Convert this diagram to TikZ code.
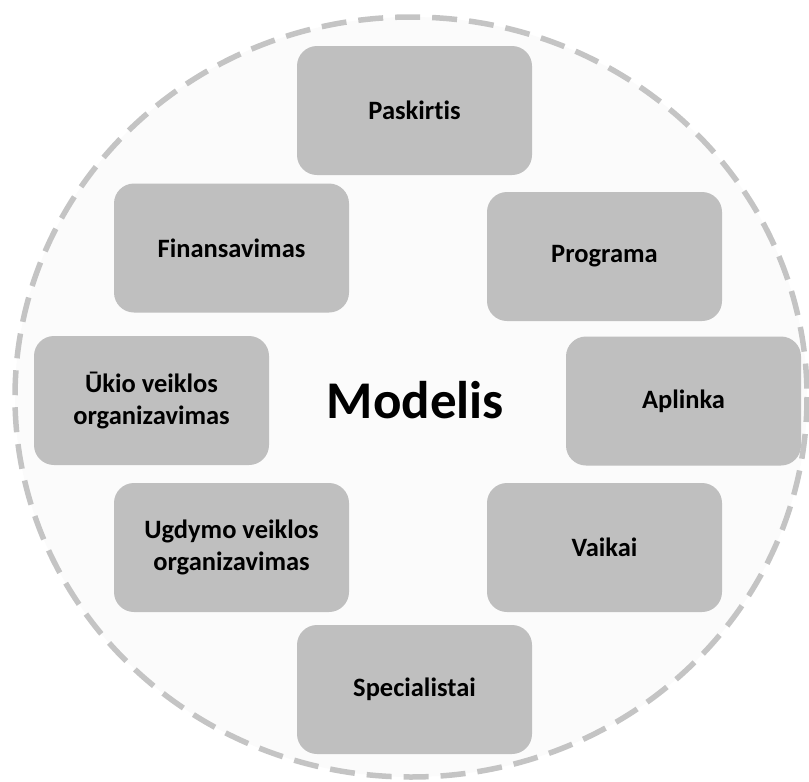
\documentclass[tikz,border=0pt]{standalone}
\usepackage{fontspec}
\setmainfont{Carlito}[Ligatures=NoCommon]
\usepackage{tikz}
\usetikzlibrary{shapes,positioning,fit}
\definecolor{boxgray}{HTML}{BFBFBF}
\definecolor{ringgray}{HTML}{C4C4C4}
\definecolor{innergray}{HTML}{FBFBFB}
\tikzset{
    part/.style={fill=boxgray, rounded corners=20pt, minimum width=235pt, minimum height=129pt,
        align=center, font=\fontsize{26.5}{32}\selectfont\bfseries},
    ring/.style={draw=ringgray, fill=innergray, line width=5.5pt, dash pattern=on 25pt off 12pt}
}

\begin{document}
\begin{tikzpicture}[x=1pt, y=-1pt]
        \useasboundingbox (0, 0) rectangle (809, 782);
        \draw [ring] (411, 397) ellipse [x radius=396, y radius=380];
        \node [part] (T) at (414.5, 110.5) {Paskirtis};
        \node [part] (TL) at (231.5, 248) {Finansavimas};
        \node [part] (TR) at (604.5, 256.5) {Programa};
        \node [part] (L) at (151.5, 400.5) {Ūkio veiklos\\organizavimas};
        \node [part] (R) at (683.5, 401) {Aplinka};
        \node [part] (BL) at (231.5, 547.5) {Ugdymo veiklos\\organizavimas};
        \node [part] (BR) at (604.5, 547.5) {Vaikai};
        \node [part] (B) at (414.5, 689.5) {Specialistai};
        \node (C) at (415.5, 400) {\fontsize{53}{60}\selectfont\bfseries Modelis};
\end{tikzpicture}
\end{document}
